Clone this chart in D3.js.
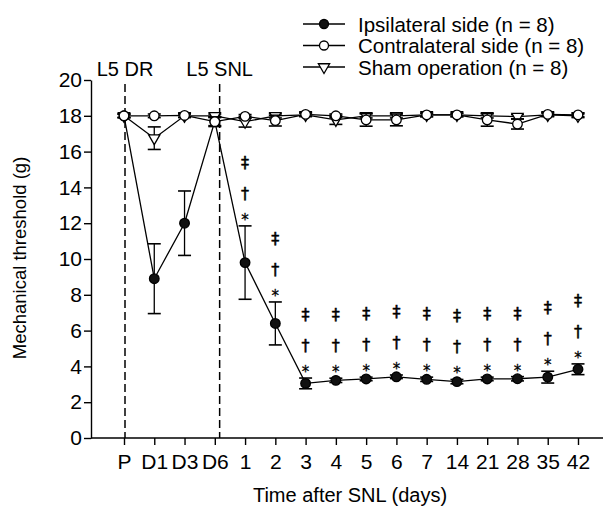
<!DOCTYPE html>
<html>
<head>
<meta charset="utf-8">
<script src="https://cdn.jsdelivr.net/npm/d3@7"></script>
<style>
  body { margin: 0; background: #fff; }
  svg text { font-family: "Liberation Sans", Arial, sans-serif; fill: #000; }
  .sig { opacity: 0.999; }
</style>
</head>
<body>
<div id="chart"></div>
<script>
// time points
var days = ["P", "D1", "D3", "D6", "1", "2", "3", "4", "5", "6", "7", "14", "21", "28", "35", "42"];

// Ipsilateral side
var ipsiMean = [18.0, 8.9, 12.0, 17.7, 9.8, 6.4, 3.05, 3.22, 3.3, 3.42, 3.28, 3.15, 3.3, 3.31, 3.4, 3.84];
var ipsiErr  = [0.1, 1.95, 1.8, 0.25, 2.05, 1.2, 0.3, 0.12, 0.1, 0.1, 0.12, 0.12, 0.1, 0.12, 0.33, 0.3];

// Contralateral side
var contraMean = [18.0, 18.0, 18.02, 17.67, 17.97, 17.73, 18.08, 18.0, 17.77, 17.77, 18.05, 18.05, 17.77, 17.54, 18.08, 18.05];
var contraErr  = [0.1, 0.1, 0.1, 0.27, 0.1, 0.3, 0.1, 0.1, 0.35, 0.33, 0.1, 0.1, 0.35, 0.28, 0.1, 0.1];

// Sham operation
var shamMean = [18.0, 16.75, 18.0, 18.0, 17.67, 18.0, 18.05, 17.77, 18.0, 18.0, 18.05, 18.05, 18.0, 17.95, 18.05, 18.0];
var shamErr  = [0.1, 0.63, 0.1, 0.1, 0.3, 0.12, 0.1, 0.25, 0.12, 0.12, 0.1, 0.1, 0.12, 0.12, 0.1, 0.1];

// significance marks over the ipsilateral points
var sigMarks = ["", "", "", "", "*†‡", "*†‡", "*†‡", "*†‡", "*†‡", "*†‡", "*†‡", "*†‡", "*†‡", "*†‡", "*†‡", "*†‡"];

var yTicks = [0, 2, 4, 6, 8, 10, 12, 14, 16, 18, 20];

var legendLabels = ["Ipsilateral side (n = 8)", "Contralateral side (n = 8)", "Sham operation (n = 8)"];

var width = 606, height = 508;

var svg = d3.select("#chart").append("svg")
    .attr("width", width)
    .attr("height", height);

var x = d3.scalePoint().domain(days).range([124, 578]);
var y = d3.scaleLinear().domain([0, 20]).range([438, 80]);

// axes
var xAxis = svg.append("g")
    .attr("transform", "translate(0," + y(0) + ")")
    .call(d3.axisBottom(x).tickSize(7).tickSizeOuter(0).tickPadding(9));
xAxis.select(".domain").remove();
xAxis.append("line")
    .attr("x1", 91).attr("x2", 603)
    .attr("stroke", "#000").attr("stroke-width", 1.4);
xAxis.selectAll(".tick line").attr("stroke-width", 1.4);
xAxis.selectAll("text").style("font-size", "21px").attr("fill", "#000");

var yAxis = svg.append("g")
    .attr("transform", "translate(91,0)")
    .call(d3.axisLeft(y).tickValues(yTicks).tickSize(7).tickSizeOuter(0).tickPadding(2));
yAxis.select(".domain").attr("stroke-width", 1.4);
yAxis.selectAll(".tick line").attr("stroke-width", 1.4);
yAxis.selectAll("text").style("font-size", "21px").attr("fill", "#000");

svg.append("text")
    .attr("x", 350).attr("y", 502)
    .attr("text-anchor", "middle")
    .style("font-size", "20px")
    .text("Time after SNL (days)");

svg.append("text")
    .attr("transform", "translate(26,258) rotate(-90)")
    .attr("text-anchor", "middle")
    .style("font-size", "18.5px")
    .text("Mechanical threshold (g)");

// surgery markers
var events = [
  { label: "L5 DR", x: x("P") + 1 },
  { label: "L5 SNL", x: x("D6") + x.step() * 0.16 }
];
svg.selectAll(".event-line").data(events).enter().append("line")
    .attr("x1", function(d) { return d.x; })
    .attr("x2", function(d) { return d.x; })
    .attr("y1", 84).attr("y2", y(0))
    .attr("stroke", "#000").attr("stroke-width", 1.5)
    .attr("stroke-dasharray", "8,4");
svg.selectAll(".event-label").data(events).enter().append("text")
    .attr("x", function(d) { return d.x; })
    .attr("y", 76)
    .attr("text-anchor", "middle")
    .style("font-size", "20px")
    .text(function(d) { return d.label; });

function drawSeries(means, errs, kind) {
  var pts = days.map(function(d, i) { return { day: d, v: means[i], e: errs[i] }; });
  var g = svg.append("g");
  g.append("path").datum(pts)
      .attr("fill", "none").attr("stroke", "#000").attr("stroke-width", 1.3)
      .attr("d", d3.line().x(function(d) { return x(d.day); }).y(function(d) { return y(d.v); }));
  var eb = g.selectAll(".eb").data(pts).enter().append("g");
  eb.append("line")
      .attr("x1", function(d) { return x(d.day); }).attr("x2", function(d) { return x(d.day); })
      .attr("y1", function(d) { return y(d.v + d.e); }).attr("y2", function(d) { return y(d.v - d.e); })
      .attr("stroke", "#000").attr("stroke-width", 1.3);
  [1, -1].forEach(function(s) {
    eb.append("line")
        .attr("x1", function(d) { return x(d.day) - 6.5; }).attr("x2", function(d) { return x(d.day) + 6.5; })
        .attr("y1", function(d) { return y(d.v + s * d.e); }).attr("y2", function(d) { return y(d.v + s * d.e); })
        .attr("stroke", "#000").attr("stroke-width", 1.6);
  });
  var sym = kind === "tri"
      ? d3.symbol().type(d3.symbolTriangle).size(55)
      : d3.symbol().type(d3.symbolCircle).size(Math.PI * 4.8 * 4.8);
  g.selectAll(".mk").data(pts).enter().append("path")
      .attr("d", sym)
      .attr("transform", function(d) {
        return "translate(" + x(d.day) + "," + y(d.v) + ")" + (kind === "tri" ? " rotate(180)" : "");
      })
      .attr("fill", kind === "filled" ? "#111" : "#fff")
      .attr("stroke", "#000").attr("stroke-width", 1.3);
  return pts;
}

var ipsiPts = drawSeries(ipsiMean, ipsiErr, "filled");
drawSeries(shamMean, shamErr, "tri");
drawSeries(contraMean, contraErr, "open");

// significance symbols stacked above the upper error cap
var markOffset = { "*": 10, "†": 34, "‡": 65 };
var sig = svg.append("g").attr("class", "sig");
ipsiPts.forEach(function(p, i) {
  sigMarks[i].split("").forEach(function(ch) {
    sig.append("text")
        .attr("x", x(p.day))
        .attr("y", y(p.v + p.e) - markOffset[ch] + (ch === "*" ? 9 : 7))
        .attr("text-anchor", "middle")
        .style("font-family", "'DejaVu Sans', sans-serif")
        .style("font-size", ch === "*" ? "15px" : "16px")
        .style("fill", "#000")
        .style("stroke", "#000")
        .style("stroke-width", ch === "*" ? 0.3 : 0.5)
        .text(ch);
  });
});

// legend
var legend = svg.append("g");
var kinds = ["filled", "open", "tri"];
legendLabels.forEach(function(lab, i) {
  var ly = 24 + i * 21.5;
  legend.append("line").attr("x1", 303).attr("x2", 345).attr("y1", ly).attr("y2", ly)
      .attr("stroke", "#000").attr("stroke-width", 1.3);
  var sym = kinds[i] === "tri"
      ? d3.symbol().type(d3.symbolTriangle).size(55)
      : d3.symbol().type(d3.symbolCircle).size(Math.PI * 4.5 * 4.5);
  legend.append("path").attr("d", sym)
      .attr("transform", "translate(324," + ly + ")" + (kinds[i] === "tri" ? " rotate(180)" : ""))
      .attr("fill", kinds[i] === "filled" ? "#111" : "#fff")
      .attr("stroke", "#000").attr("stroke-width", 1.3);
  legend.append("text").attr("x", 358).attr("y", ly + 7.5)
      .style("font-size", "20.5px")
      .text(lab);
});
</script>
</body>
</html>
